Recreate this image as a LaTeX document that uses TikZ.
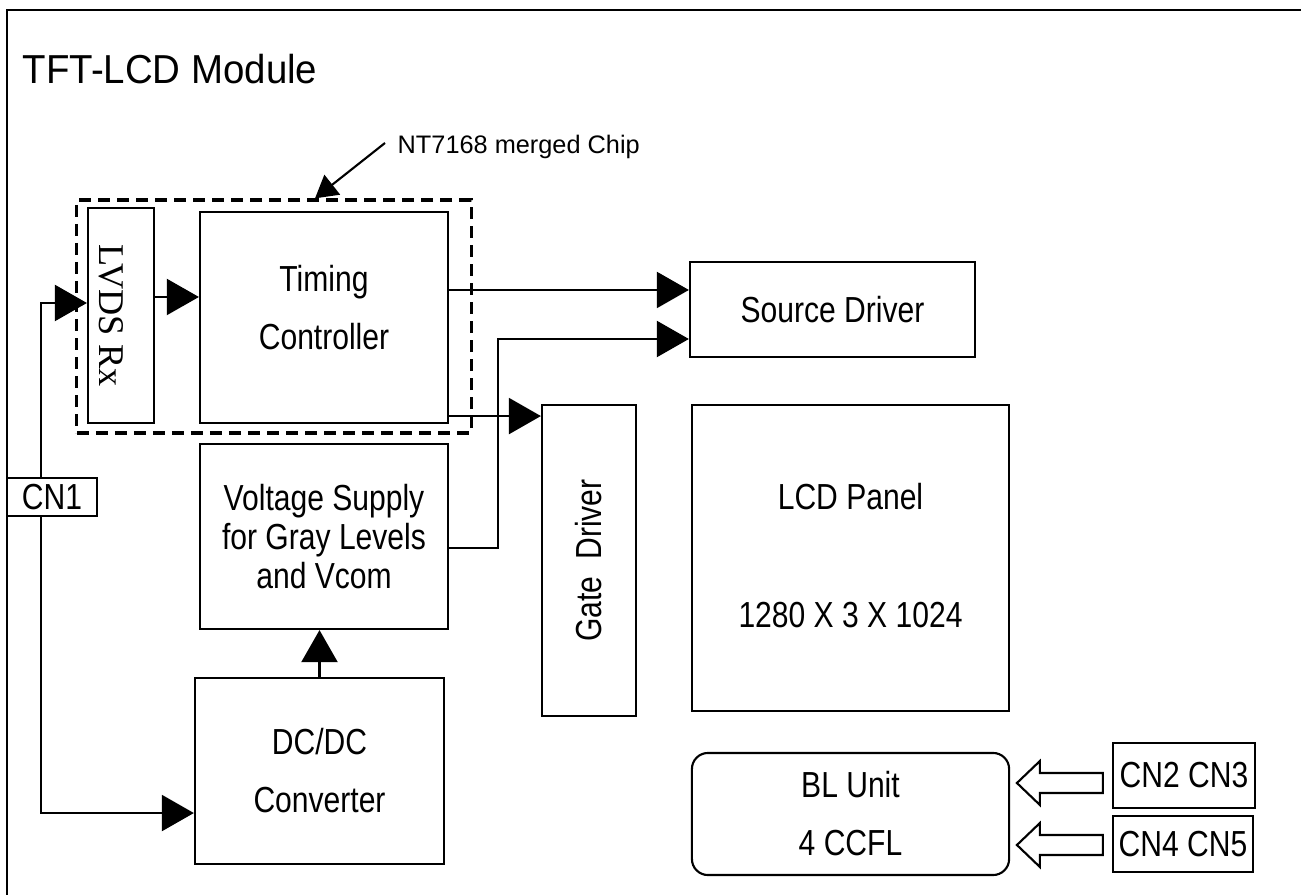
\documentclass[tikz,border=0pt]{standalone}
\usepackage{fontspec}
\setmainfont{Liberation Sans}
\newfontfamily\rxfont{Liberation Serif}
\newfontfamily\blockfont{Liberation Sans}[FakeStretch=0.83]
\newfontfamily\titlefont{Liberation Sans}[FakeStretch=0.95]
\usepackage{graphicx}
\usetikzlibrary{positioning, arrows.meta, calc}
\tikzset{
  blockbox/.style = {draw, line width=0.6pt, inner sep=0pt, align=center, font=\blockfont\fontsize{10.3}{16.5}\selectfont},
  roundbox/.style = {blockbox, rounded corners=0.16cm},
  chipbox/.style  = {draw, line width=0.9pt, dash pattern=on 1.2mm off 0.7mm, inner sep=0pt},
  fwd/.style      = {-{Triangle[length=3.2mm, width=3.6mm]}, line width=0.6pt},
  pointer/.style  = {-{Triangle[length=2.2mm, width=2.5mm]}, line width=0.6pt},
  hollow/.style   = {draw, line width=0.6pt, line join=miter},
  frame/.style    = {draw, line width=0.8pt}
}

\begin{document}
\begin{tikzpicture}[x=0.01cm, y=-0.01cm]

    \useasboundingbox (0,0) rectangle (1301,895);

    % --- Module frame and title ----------------------------------------------
    \draw[frame] (7,910) -- (7,10) -- (1320,10);
    \node[anchor=west, inner sep=0pt, font=\titlefont\fontsize{11.5}{13}\selectfont] (title) at (22,69)
      {TFT-LCD Module};

    % --- Merged chip ---------------------------------------------------------
    \node[chipbox, minimum width=3.94cm, minimum height=2.33cm] (chip) at (274,316.5) {};
    \node[anchor=west, inner sep=0pt, font=\fontsize{7.2}{9}\selectfont] (chiplbl) at (397,147)
      {NT7168 merged Chip};

    \node[blockbox, minimum width=0.66cm, minimum height=2.15cm] (lvds) at (121,315.5)
      {\rotatebox{-90}{\rxfont LVDS Rx}\hspace{0.2cm}};
    \node[blockbox, minimum width=2.48cm, minimum height=2.11cm] (timing) at (324,317.5)
      {Timing\\Controller\\[-10.5pt]{}};

    % --- Power path ----------------------------------------------------------
    \node[blockbox, minimum width=2.48cm, minimum height=1.85cm,
          font=\blockfont\fontsize{10.3}{11.2}\selectfont] (volt) at (324,536.5)
      {Voltage Supply\\for Gray Levels\\and Vcom};
    \node[blockbox, minimum width=2.49cm, minimum height=1.86cm] (dcdc) at (319.5,771)
      {DC/DC\\Converter};
    \node[blockbox, minimum width=0.9cm, minimum height=0.38cm] (cn1) at (52,497) {CN1};

    % --- Panel side ----------------------------------------------------------
    \node[blockbox, minimum width=2.85cm, minimum height=0.95cm] (src) at (832.5,309.5)
      {Source Driver};
    \node[blockbox, minimum width=0.94cm, minimum height=3.11cm] (gate) at (589,560.5)
      {\rotatebox{90}{Gate~~Driver}};
    \node[blockbox, minimum width=3.17cm, minimum height=3.06cm] (lcd) at (850.5,558)
      {{}\\[-10.5pt]LCD Panel\\[0.6cm]1280 X 3 X 1024};

    % --- Backlight -----------------------------------------------------------
    \node[roundbox, minimum width=3.17cm, minimum height=1.22cm] (bl) at (850.5,814)
      {BL Unit\\4 CCFL};
    \node[blockbox, minimum width=1.42cm, minimum height=0.65cm] (cn23) at (1184,775.5)
      {CN2 CN3};
    \node[blockbox, minimum width=1.40cm, minimum height=0.56cm] (cn45) at (1183,844)
      {CN4 CN5};

    % --- Arrows --------------------------------------------------------------
    \draw[pointer] ([xshift=-0.12cm, yshift=0.04cm]chiplbl.west) -- ([xshift=0.41cm]chip.north);
    \draw[fwd] ([xshift=-0.11cm]cn1.north) |- ([yshift=0.125cm]lvds.west);
    \draw[fwd] ([xshift=-0.11cm]cn1.south) |- ([yshift=-0.42cm]dcdc.west);
    \draw[fwd] ([yshift=0.185cm]lvds.east) -- ([yshift=0.185cm]lvds.east -| timing.west);
    \draw[fwd] ([yshift=0.275cm]timing.east) -- ([yshift=0.275cm]timing.east -| src.west);
    \draw[fwd] ([yshift=-0.985cm]timing.east) -- ([yshift=-0.985cm]timing.east -| gate.west);
    \draw[fwd] ([yshift=-0.115cm]volt.east) -- ++(49,0) |- ([yshift=-0.295cm]src.west);
    \draw[fwd] (dcdc.north) -- (dcdc.north |- volt.south);

    \draw[hollow] ($(cn23.west)+(-9,-2.5)$) -- ++(-63,0) -- ++(0,-12) -- ++(-23,22)
      -- ++(23,22) -- ++(0,-12) -- ++(63,0) -- cycle;
    \draw[hollow] ($(cn45.west)+(-9,-9)$) -- ++(-63,0) -- ++(0,-12) -- ++(-23,22)
      -- ++(23,22) -- ++(0,-12) -- ++(63,0) -- cycle;

  \end{tikzpicture}
\end{document}
